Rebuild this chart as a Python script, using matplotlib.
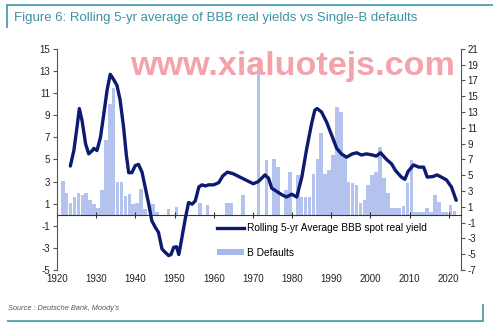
import matplotlib.pyplot as plt
from matplotlib.lines import Line2D
from matplotlib.patches import Patch

plt.rcParams['font.family'] = ['Liberation Sans', 'DejaVu Sans']
plt.rcParams['axes.unicode_minus'] = False

# Single-B default rate (%), one bar per year, right axis
default_years = list(range(1921, 2022))
b_defaults = [4.3, 2.7, 1.5, 2.2, 2.7, 2.5, 2.8, 1.9, 1.3, 0.8,
              3.1, 9.4, 14.0, 16.1, 4.1, 4.1, 2.4, 2.6, 1.3, 1.5,
              3.2, 0.7, 0.0, 1.3, 0.4, 0.0, 0.0, 0.7, 0.0, 1.0,
              0.0, 0.0, 0.0, 0.0, 0.0, 1.5, 0.0, 1.2, 0.0, 0.0,
              0.0, 0.0, 1.5, 1.5, 0.0, 0.0, 2.5, 0.0, 0.0, 0.0,
              19.3, 0.0, 6.9, 0.0, 7.1, 6.1, 0.0, 3.1, 5.4, 0.0,
              5.0, 2.3, 2.3, 2.3, 5.2, 7.1, 10.3, 5.2, 5.6, 7.5,
              13.7, 13.0, 7.3, 4.2, 4.0, 3.7, 1.5, 1.8, 3.7, 5.0,
              5.4, 8.6, 4.6, 2.7, 0.8, 0.8, 0.8, 1.1, 4.0, 6.9,
              0.35, 0.35, 0.35, 0.8, 0.3, 2.5, 1.6, 0.35, 0.35, 1.2,
              0.5]

# Rolling 5-yr average BBB spot real yield (%), left axis
yield_years = [1923.4, 1924.3, 1925.1, 1925.7, 1926.4, 1927.3, 1928.1, 1929.0, 1929.4, 1930.2,
               1931.1, 1931.9, 1932.8, 1933.6, 1934.5, 1935.3, 1936.1, 1937.0, 1937.7, 1938.3,
               1939.1, 1940.0, 1940.8, 1941.7, 1942.5, 1943.4, 1944.2, 1945.1, 1945.9, 1946.8,
               1947.6, 1948.5, 1949.1, 1949.8, 1950.5, 1951.1, 1951.9, 1952.8, 1953.6, 1954.5,
               1955.3, 1956.2, 1957.0, 1957.9, 1958.7, 1960.0, 1961.3, 1962.3, 1963.5, 1965.0,
               1966.7, 1968.4, 1970.1, 1971.4, 1973.1, 1974.0, 1974.8, 1976.1, 1977.4, 1978.6,
               1979.9, 1981.2, 1982.5, 1983.7, 1985.0, 1985.8, 1986.4, 1987.5, 1988.8, 1990.1,
               1991.4, 1992.6, 1993.9, 1995.4, 1996.5, 1997.7, 1999.0, 2000.5, 2001.5, 2002.6,
               2004.1, 2005.4, 2006.4, 2007.9, 2008.8, 2009.6, 2011.0, 2012.4, 2013.6, 2014.5,
               2016.0, 2017.0, 2018.1, 2019.4, 2020.7, 2021.9]
bbb_yield = [4.4, 5.8, 7.9, 9.6, 8.5, 6.4, 5.5, 5.8, 6.0, 5.8,
             7.0, 9.0, 11.3, 12.7, 12.2, 11.7, 10.4, 7.9, 5.4, 3.8,
             3.8, 4.45, 4.55, 3.85, 2.5, 1.0, -0.55, -1.15, -1.6, -3.1,
             -3.4, -3.7, -3.6, -2.95, -2.9, -3.6, -2.05, -0.25, 1.1, 0.95,
             1.25, 2.5, 2.7, 2.6, 2.7, 2.7, 2.9, 3.5, 3.85, 3.7,
             3.4, 3.1, 2.8, 3.0, 3.6, 3.3, 2.4, 2.1, 1.8, 1.6,
             1.85, 1.6, 3.4, 5.9, 8.25, 9.45, 9.6, 9.3, 8.4, 7.2,
             6.0, 5.5, 5.2, 5.5, 5.6, 5.4, 5.5, 5.4, 5.3, 5.6,
             5.0, 4.6, 4.0, 3.4, 3.2, 3.9, 4.5, 4.3, 4.3, 3.4,
             3.45, 3.6, 3.4, 3.15, 2.5, 1.3]

left_ticks = list(range(-5, 16, 2))
right_ticks = list(range(-7, 22, 2))
decades = list(range(1920, 2021, 10))

navy = '#0c1a72'
bar_blue = '#b3c3ee'
teal = '#5aa6b4'
spine_grey = '#555555'

fig = plt.figure(figsize=(5, 3.28), dpi=100)
ax = fig.add_axes([0.114, 0.177, 0.807, 0.674])
ax2 = ax.twinx()

ax2.bar(default_years, b_defaults, width=0.92, align='edge', color=bar_blue, linewidth=0)
ax.plot(yield_years, bbb_yield, color=navy, lw=2.4, solid_capstyle='round')

ax.set_zorder(ax2.get_zorder() + 1)
ax.patch.set_visible(False)

ax.set_xlim(1920, 2023)
ax.set_ylim(-5, 15)
ax2.set_ylim(-7, 21)
ax.set_yticks(left_ticks)
ax2.set_yticks(right_ticks)

for a in (ax, ax2):
    a.spines['top'].set_visible(False)
    a.spines['bottom'].set_visible(False)
    a.tick_params(axis='y', labelsize=7, colors='#222222', length=3, width=0.8, pad=2)
ax.spines['right'].set_visible(False)
ax2.spines['left'].set_visible(False)
ax.spines['left'].set_color(spine_grey)
ax2.spines['right'].set_color(spine_grey)
ax.tick_params(axis='y', color=spine_grey)
ax2.tick_params(axis='y', color=spine_grey)

# decade labels along the bottom, tick marks on the zero line
ax.set_xticks(decades)
ax.tick_params(axis='x', length=0, labelsize=7, colors='#222222', pad=3)
zero_axis = ax.secondary_xaxis(0.25)
zero_axis.set_xticks(decades)
zero_axis.tick_params(axis='x', direction='inout', length=5, width=0.8,
                      color='#333333', labelbottom=False)
zero_axis.spines['bottom'].set_color('#333333')
zero_axis.spines['bottom'].set_linewidth(0.8)

handles = [Line2D([], [], color=navy, lw=2.4),
           Patch(facecolor='#a5b8ec', edgecolor='none')]
ax.legend(handles, ['Rolling 5-yr Average BBB spot real yield', 'B Defaults'],
          loc='upper left', bbox_to_anchor=(0.385, 0.236), frameon=False,
          fontsize=7.3, handlelength=2.6, handleheight=0.55, handletextpad=0.3,
          labelspacing=1.45, borderpad=0)

fig.text(0.585, 0.797, 'www.xialuotejs.com', ha='center', va='center',
         fontsize=24.6, fontweight='bold', color='#f4a3ab', zorder=10)

fig.text(0.028, 0.945, 'Figure 6: Rolling 5-yr average of BBB real yields vs Single-B defaults',
         fontsize=9.5, color='#3c92a4', va='center')
fig.text(0.016, 0.058, "Source : Deutsche Bank, Moody's", fontsize=5.3,
         style='italic', color='#555555', va='center')

# report frame: top rule with left tick, bottom rule with right tick
fig.add_artist(Line2D([0.014, 0.984], [0.986, 0.986], color=teal, lw=1.4))
fig.add_artist(Line2D([0.014, 0.014], [0.986, 0.918], color=teal, lw=1.4))
fig.add_artist(Line2D([0.016, 0.966], [0.022, 0.022], color=teal, lw=1.4))
fig.add_artist(Line2D([0.966, 0.966], [0.022, 0.07], color=teal, lw=1.4))

plt.savefig('out.png')
